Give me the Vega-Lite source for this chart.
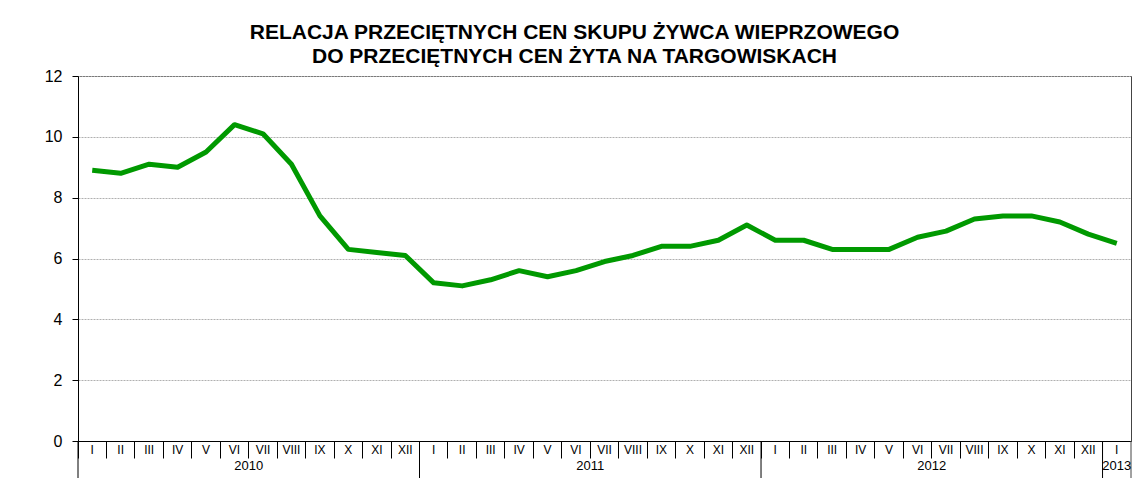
{
  "$schema": "https://vega.github.io/schema/vega-lite/v6.json",
  "width": 1053,
  "height": 365,
  "autosize": {"type": "none"},
  "padding": {"left": 78, "top": 76, "right": 3, "bottom": 37},
  "background": "white",
  "config": {
    "font": "Liberation Sans",
    "view": {"stroke": "#444", "strokeWidth": 1}
  },
  "title": {
    "text": ["RELACJA PRZECIĘTNYCH CEN SKUPU ŻYWCA WIEPRZOWEGO", "DO PRZECIĘTNYCH CEN ŻYTA NA TARGOWISKACH"],
    "font": "Liberation Sans",
    "fontSize": 21,
    "fontWeight": "bold",
    "color": "#000",
    "lineHeight": 24,
    "anchor": "middle",
    "dx": -30,
    "offset": 1
  },
  "datasets": {
    "series": [
      {"k": "2010-01", "v": 8.9}, {"k": "2010-02", "v": 8.8}, {"k": "2010-03", "v": 9.1},
      {"k": "2010-04", "v": 9.0}, {"k": "2010-05", "v": 9.5}, {"k": "2010-06", "v": 10.4},
      {"k": "2010-07", "v": 10.1}, {"k": "2010-08", "v": 9.1}, {"k": "2010-09", "v": 7.4},
      {"k": "2010-10", "v": 6.3}, {"k": "2010-11", "v": 6.2}, {"k": "2010-12", "v": 6.1},
      {"k": "2011-01", "v": 5.2}, {"k": "2011-02", "v": 5.1}, {"k": "2011-03", "v": 5.3},
      {"k": "2011-04", "v": 5.6}, {"k": "2011-05", "v": 5.4}, {"k": "2011-06", "v": 5.6},
      {"k": "2011-07", "v": 5.9}, {"k": "2011-08", "v": 6.1}, {"k": "2011-09", "v": 6.4},
      {"k": "2011-10", "v": 6.4}, {"k": "2011-11", "v": 6.6}, {"k": "2011-12", "v": 7.1},
      {"k": "2012-01", "v": 6.6}, {"k": "2012-02", "v": 6.6}, {"k": "2012-03", "v": 6.3},
      {"k": "2012-04", "v": 6.3}, {"k": "2012-05", "v": 6.3}, {"k": "2012-06", "v": 6.7},
      {"k": "2012-07", "v": 6.9}, {"k": "2012-08", "v": 7.3}, {"k": "2012-09", "v": 7.4},
      {"k": "2012-10", "v": 7.4}, {"k": "2012-11", "v": 7.2}, {"k": "2012-12", "v": 6.8},
      {"k": "2013-01", "v": 6.5}
    ],
    "yearStarts": [
      {"k": "2010-01"}, {"k": "2011-01"}, {"k": "2012-01"}, {"k": "2013-01"}
    ],
    "yearLabels": [
      {"k": "2010-07", "year": "2010"}, {"k": "2011-07", "year": "2011"}, {"k": "2012-07", "year": "2012"}
    ],
    "lastYear": [
      {"k": "2013-01", "year": "2013"}
    ]
  },
  "layer": [
    {
      "data": {"name": "series"},
      "mark": {"type": "line", "color": "#009900", "strokeWidth": 5, "strokeJoin": "round"},
      "encoding": {
        "x": {
          "field": "k",
          "type": "ordinal",
          "scale": {"type": "band", "paddingInner": 0, "paddingOuter": 0},
          "axis": {
            "title": null,
            "bandPosition": 0,
            "tickSize": 17,
            "tickColor": "#000",
            "domainColor": "#000",
            "labelPadding": -14,
            "labelAngle": 0,
            "labelFontSize": 12,
            "labelColor": "#000",
            "labelFont": "Liberation Sans",
            "labelExpr": "['I','II','III','IV','V','VI','VII','VIII','IX','X','XI','XII'][toNumber(slice(datum.value,5))-1]"
          }
        },
        "y": {
          "field": "v",
          "type": "quantitative",
          "scale": {"domain": [0, 12], "nice": false, "zero": true},
          "axis": {
            "title": null,
            "values": [0, 2, 4, 6, 8, 10, 12],
            "tickSize": 6,
            "tickColor": "#000",
            "domainColor": "#000",
            "labelPadding": 10,
            "labelFontSize": 16,
            "labelColor": "#000",
            "labelFont": "Liberation Sans",
            "gridColor": "#b0b0b0",
            "gridDash": [2, 1],
            "gridWidth": 1
          }
        }
      }
    },
    {
      "data": {"name": "yearStarts"},
      "mark": {"type": "rule", "color": "#000", "strokeWidth": 1},
      "encoding": {
        "x": {"field": "k", "type": "ordinal", "bandPosition": 0},
        "y": {"datum": 0},
        "y2": {"datum": -1.3}
      }
    },
    {
      "data": {"name": "lastYear"},
      "mark": {"type": "rule", "color": "#444", "strokeWidth": 1},
      "encoding": {
        "x": {"field": "k", "type": "ordinal", "bandPosition": 1},
        "y": {"datum": 0},
        "y2": {"datum": -1.3}
      }
    },
    {
      "data": {"name": "yearLabels"},
      "mark": {"type": "text", "fontSize": 13, "color": "#000", "baseline": "middle", "align": "center"},
      "encoding": {
        "x": {"field": "k", "type": "ordinal", "bandPosition": 0},
        "y": {"datum": -0.83},
        "text": {"field": "year"}
      }
    },
    {
      "data": {"name": "lastYear"},
      "mark": {"type": "text", "fontSize": 13, "color": "#000", "baseline": "middle", "align": "center"},
      "encoding": {
        "x": {"field": "k", "type": "ordinal", "bandPosition": 0.5},
        "y": {"datum": -0.83},
        "text": {"field": "year"}
      }
    }
  ]
}
